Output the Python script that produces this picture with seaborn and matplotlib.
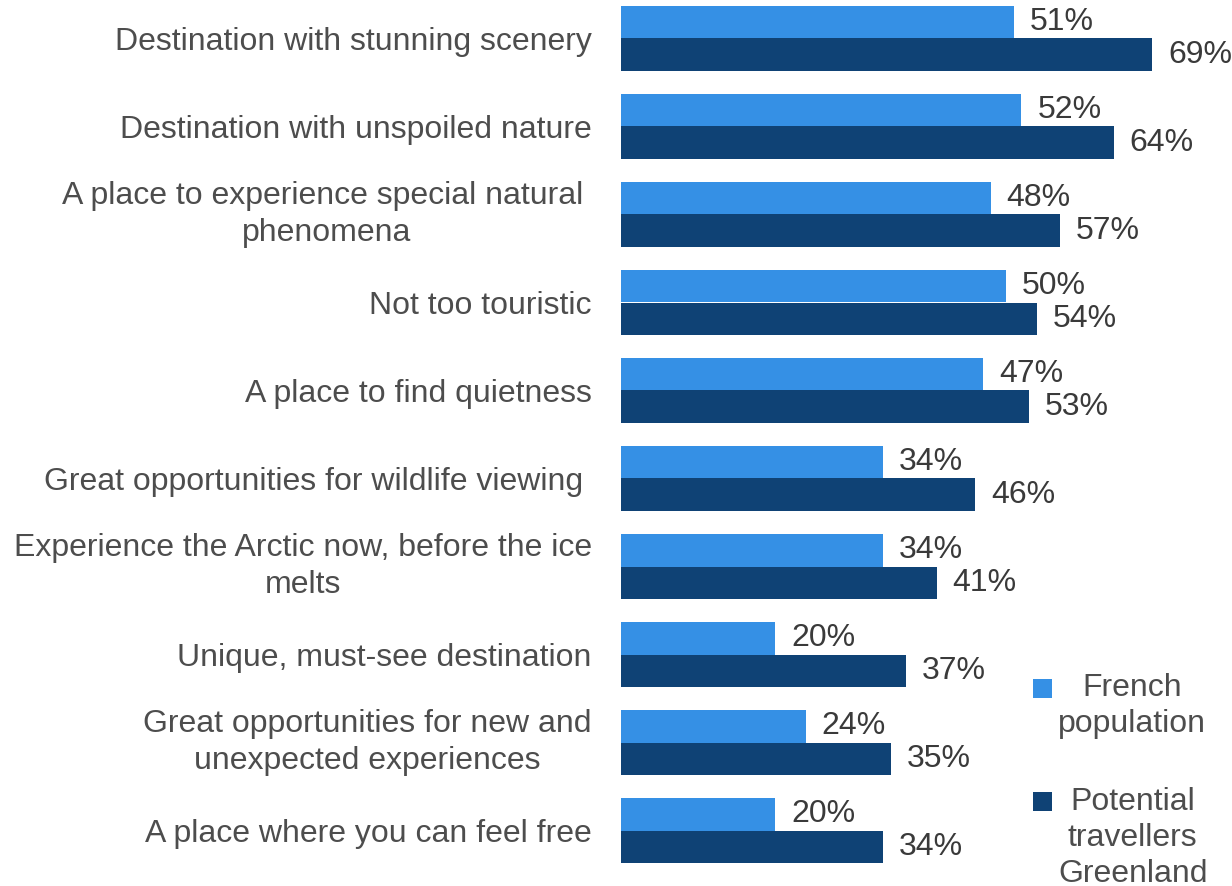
import matplotlib
matplotlib.use("Agg")
import matplotlib.pyplot as plt
from matplotlib.legend_handler import HandlerPatch
from matplotlib.patches import Rectangle
import seaborn as sns
import pandas as pd

categories = [
    "Destination with stunning scenery",
    "Destination with unspoiled nature",
    "A place to experience special natural \nphenomena",
    "Not too touristic",
    "A place to find quietness",
    "Great opportunities for wildlife viewing ",
    "Experience the Arctic now, before the ice\nmelts",
    "Unique, must-see destination",
    "Great opportunities for new and\nunexpected experiences",
    "A place where you can feel free",
]
french_population = [51, 52, 48, 50, 47, 34, 34, 20, 24, 20]
potential_travellers = [69, 64, 57, 54, 53, 46, 41, 37, 35, 34]
series_names = ["French\npopulation", "Potential\ntravellers\nGreenland"]
series_colors = ["#3590E5", "#0F4275"]

df = pd.DataFrame({
    "category": categories * 2,
    "value": french_population + potential_travellers,
    "series": [series_names[0]] * len(categories) + [series_names[1]] * len(categories),
})

sns.set_theme(style="white")
plt.rcParams["font.family"] = ["Liberation Sans", "DejaVu Sans"]

FS = 23

fig = plt.figure(figsize=(12.32, 8.86), dpi=100)
ax = fig.add_axes([621 / 1232, (886 - 874.5) / 886, 616 / 1232, 880 / 886])

sns.barplot(
    data=df, y="category", x="value", hue="series", order=categories,
    hue_order=series_names, palette=series_colors, width=0.74,
    orient="h", ax=ax, saturation=1, legend=True, linewidth=0,
)

ax.set_xlim(0, 80)
ax.set_ylim(9.5, -0.5)
ax.set_xlabel("")
ax.set_ylabel("")
ax.set_xticks([])
for s in ax.spines.values():
    s.set_visible(False)

ax.tick_params(axis="y", length=0, pad=21, labelsize=FS, labelcolor="#4D4D4D")
for lbl in ax.get_yticklabels():
    lbl.set_multialignment("center")
    lbl.set_linespacing(1.28)
    if "\n" in lbl.get_text():
        lbl.set_verticalalignment("center")

for cont in ax.containers:
    ax.bar_label(cont, labels=[f"{int(v)}%" for v in cont.datavalues],
                 padding=11.5, fontsize=FS, color="#3A3A3A")


class TopAlignedSquare(HandlerPatch):
    """Square legend key lifted to sit beside the first line of a multi-line label."""

    def __init__(self, lift, **kw):
        super().__init__(**kw)
        self.lift = lift

    def create_artists(self, legend, orig_handle, xdescent, ydescent,
                       width, height, fontsize, trans):
        side = height
        patch = Rectangle((-xdescent, -ydescent + self.lift * fontsize), side, side,
                          facecolor=orig_handle.get_facecolor(), linewidth=0,
                          transform=trans)
        return [patch]


handles, labels = ax.get_legend_handles_labels()
ax.get_legend().remove()
leg = fig.legend(
    handles, labels, loc="lower left", bbox_to_anchor=(1033 / 1232, -3 / 886),
    frameon=False, fontsize=FS, handlelength=0.53, handleheight=0.53,
    handletextpad=0.25, labelspacing=1.48, labelcolor="#4D4D4D", borderpad=0,
    borderaxespad=0,
    handler_map={handles[0]: TopAlignedSquare(0.57), handles[1]: TopAlignedSquare(1.14)},
)
for t in leg.get_texts():
    t.set_multialignment("center")
    t.set_linespacing(1.27)

fig.savefig("out.png", dpi=100)
